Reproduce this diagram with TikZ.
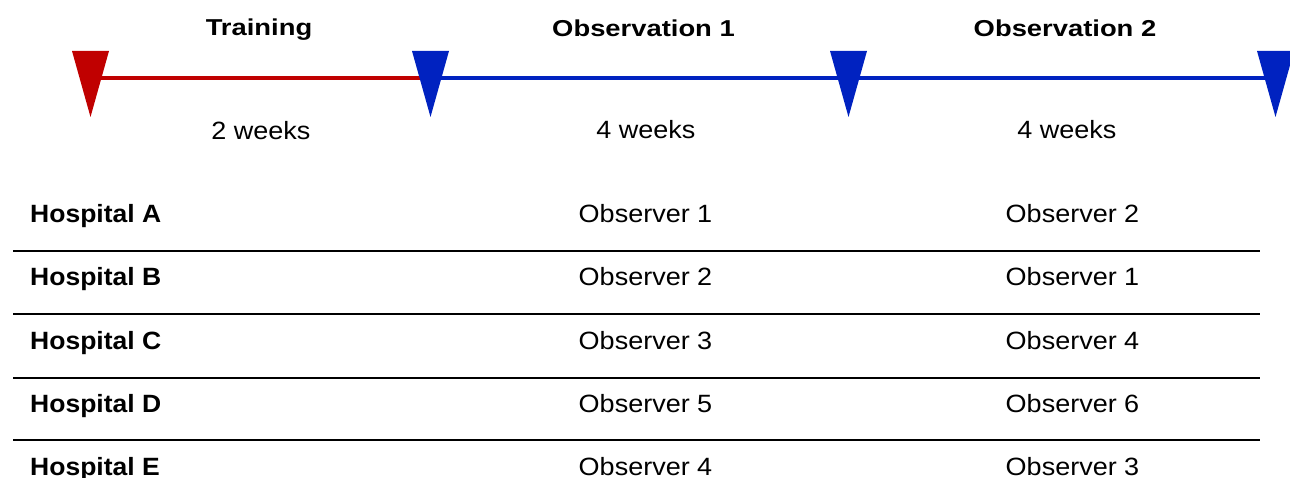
\documentclass[tikz,border=0pt]{standalone}
\usepackage{fontspec}
\setmainfont{Liberation Sans}
\definecolor{tred}{RGB}{192,0,0}
\definecolor{tblue}{RGB}{0,34,192}
\newcommand\wtxt[1]{\scalebox{1.08}[1]{#1}}
\newcommand\whosp[1]{\scalebox{1.06}[1]{#1}}
\newcommand\whdr[1]{\scalebox{1.19}[1]{#1}}
\begin{document}
\begin{tikzpicture}[x=1pt,y=-1pt,
  lbl/.style={inner sep=0pt,anchor=base,font=\fontsize{25}{30}\selectfont},
  hdr/.style={lbl,font=\fontsize{23}{28}\selectfont\bfseries},
  hosp/.style={lbl,anchor=base west,font=\fontsize{25}{30}\selectfont\bfseries},
  rule/.style={line width=1.8pt,black},
  tline/.style={line width=4.5pt}]
\useasboundingbox (0,0) rectangle (1290,478);
% marker positions (top centre of each triangle)
\coordinate (m1) at (90.5,51);
\coordinate (m2) at (430.5,51);
\coordinate (m3) at (848.5,51);
\coordinate (m4) at (1275.5,51);
\coordinate (l1) at (90.5,78);
\coordinate (l2) at (430.5,78);
\coordinate (l3) at (848.5,78);
\coordinate (l4) at (1275.5,78);
\draw[tline,tred] (l1) -- (l2);
\draw[tline,tblue] (l2) -- (l4);
\fill[tred] ([xshift=-18.5pt]m1) -- ([xshift=18.5pt]m1) -- ([yshift=-66pt]m1) -- cycle;
\foreach \m in {m2,m3,m4}
  \fill[tblue] ([xshift=-18.5pt]\m) -- ([xshift=18.5pt]\m) -- ([yshift=-66pt]\m) -- cycle;
% headers
\node[hdr] (h1) at (259,36) {\whdr{Training}};
\node[hdr] (h2) at (643.5,36.5) {\whdr{Observation 1}};
\node[hdr] (h3) at (1065,36.5) {\whdr{Observation 2}};
\node[lbl] (d1) at (261,140) {\wtxt{2 weeks}};
\node[lbl] (d2) at (646,139) {\wtxt{4 weeks}};
\node[lbl] (d3) at (1067,139) {\wtxt{4 weeks}};
% table
\foreach \y/\h/\a/\b [count=\i] in {223/A/1/2,286/B/2/1,349/C/3/4,412/D/5/6,475/E/4/3}{
  \node[hosp] (hosp\i) at (30,\y) {\whosp{Hospital \h}};
  \node[lbl] (oa\i) at (645.5,\y) {\wtxt{Observer \a}};
  \node[lbl] (ob\i) at (1072.5,\y) {\wtxt{Observer \b}};
}
\foreach \y [count=\i] in {251,314,378,440}{
  \coordinate (ra\i) at (13,\y);
  \coordinate (rb\i) at (1260,\y);
  \draw[rule] (ra\i) -- (rb\i);
}
\end{tikzpicture}
\end{document}
